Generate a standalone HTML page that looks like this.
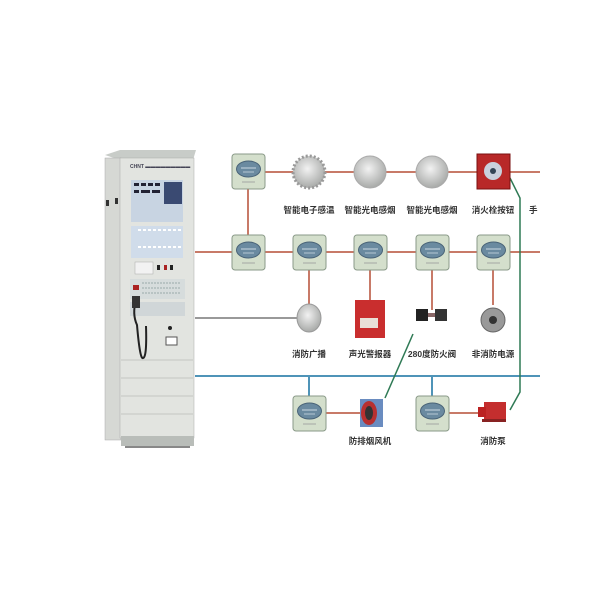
<!DOCTYPE html>
<html><head><meta charset="utf-8"><style>
html,body{margin:0;padding:0;background:#fff;width:600px;height:600px;overflow:hidden}
text{font-family:"Liberation Sans","Noto Sans CJK SC",sans-serif;font-size:8.5px;font-weight:bold;fill:#333}
</style></head><body>
<svg width="600" height="600" viewBox="0 0 600 600" xmlns="http://www.w3.org/2000/svg">
<defs>
<g id="mod">
<rect x="0" y="0" width="33" height="35" rx="3" fill="#d4dfcc" stroke="#8a9a88" stroke-width="1"/>
<ellipse cx="16.5" cy="15" rx="12" ry="8" fill="#6a8aa0" stroke="#4a6478"/>
<line x1="9" y1="14" x2="24" y2="14" stroke="#c9d8e2" stroke-width="1"/>
<line x1="11" y1="18" x2="22" y2="18" stroke="#c9d8e2" stroke-width="0.8"/>
<line x1="10" y1="28" x2="23" y2="28" stroke="#999" stroke-width="0.8"/>
</g>
<radialGradient id="dome" cx="45%" cy="40%" r="60%"><stop offset="0" stop-color="#f2f2f2"/><stop offset="1" stop-color="#a8aaa8"/></radialGradient>
</defs>
<g stroke="#c87a68" stroke-width="2" fill="none">
<line x1="248" y1="172" x2="540" y2="172"/>
<line x1="195" y1="252" x2="540" y2="252"/>
<line x1="248" y1="172" x2="248" y2="252"/>
<line x1="309" y1="252" x2="309" y2="305"/>
<line x1="370" y1="252" x2="370" y2="300"/>
<line x1="432" y1="252" x2="432" y2="310"/>
<line x1="493" y1="252" x2="493" y2="305"/>
<line x1="326" y1="413" x2="360" y2="413"/>
<line x1="449" y1="413" x2="480" y2="413"/>
</g>
<line x1="195" y1="318" x2="298" y2="318" stroke="#999" stroke-width="2"/>
<g stroke="#4f94b8" stroke-width="2">
<line x1="195" y1="376" x2="540" y2="376"/>
<line x1="309" y1="376" x2="309" y2="396"/>
<line x1="432" y1="376" x2="432" y2="396"/>
</g>
<g stroke="#2f7a55" stroke-width="1.5" fill="none">
<polyline points="510,178 520,198 520,392 510,410"/>
<line x1="413" y1="334" x2="385" y2="398"/>
</g>
<polygon points="105,155 120,150 196,150 193,160 120,160" fill="#c8ccc8"/>
<rect x="105" y="158" width="16" height="282" fill="#d6d8d4" stroke="#aaa" stroke-width="0.5"/>
<rect x="120" y="158" width="74" height="280" fill="#e2e4e0" stroke="#aaa" stroke-width="0.5"/>
<rect x="121" y="436" width="73" height="10" fill="#b9bdb9"/>
<rect x="125" y="446" width="65" height="2" fill="#888"/>
<rect x="106" y="200" width="3" height="6" fill="#333"/><rect x="115" y="198" width="3" height="6" fill="#333"/>
<text x="130" y="168" style="font-size:5px;fill:#445">CHNT  ▬▬▬▬▬▬▬▬▬</text>
<rect x="131" y="180" width="52" height="42" fill="#c8d4e2"/>
<rect x="164" y="182" width="18" height="22" fill="#3a4a72"/>
<g fill="#223"><rect x="134" y="183" width="5" height="3"/><rect x="141" y="183" width="5" height="3"/><rect x="148" y="183" width="5" height="3"/><rect x="155" y="183" width="5" height="3"/>
<rect x="134" y="190" width="5" height="3"/><rect x="141" y="190" width="9" height="3"/><rect x="152" y="190" width="8" height="3"/></g>
<rect x="131" y="226" width="52" height="32" fill="#d0dcea"/>
<g stroke="#fff" stroke-width="2" stroke-dasharray="3 2"><line x1="138" y1="230" x2="182" y2="230"/><line x1="138" y1="247" x2="182" y2="247"/></g>
<rect x="135" y="262" width="18" height="12" fill="#f2f2f2" stroke="#aaa" stroke-width="0.5"/>
<rect x="157" y="265" width="3" height="5" fill="#222"/><rect x="164" y="265" width="3" height="5" fill="#a22"/><rect x="170" y="265" width="3" height="5" fill="#222"/>
<rect x="130" y="279" width="55" height="20" fill="#d6dcdc"/>
<g stroke="#9aa" stroke-width="1" stroke-dasharray="2 1"><line x1="142" y1="283" x2="180" y2="283"/><line x1="142" y1="288" x2="180" y2="288"/><line x1="142" y1="293" x2="180" y2="293"/></g>
<rect x="133" y="285" width="6" height="5" fill="#a22"/>
<rect x="130" y="302" width="55" height="14" fill="#d0d6d8"/>
<path d="M136,300 q-4,14 1,25 q3,35 6,33 q4,0 3,-32" stroke="#222" stroke-width="2" fill="none"/>
<rect x="132" y="296" width="8" height="12" fill="#333"/>
<circle cx="170" cy="328" r="2" fill="#222"/>
<rect x="166" y="337" width="11" height="8" fill="#fff" stroke="#555"/>
<g stroke="#c4c6c2" stroke-width="1"><line x1="121" y1="360" x2="193" y2="360"/><line x1="121" y1="378" x2="193" y2="378"/><line x1="121" y1="396" x2="193" y2="396"/><line x1="121" y1="414" x2="193" y2="414"/></g>
<use href="#mod" x="232" y="154"/>
<use href="#mod" x="232" y="235"/>
<use href="#mod" x="293" y="235"/>
<use href="#mod" x="354" y="235"/>
<use href="#mod" x="416" y="235"/>
<use href="#mod" x="477" y="235"/>
<use href="#mod" x="293" y="396"/>
<use href="#mod" x="416" y="396"/>
<circle cx="309" cy="172" r="16" fill="url(#dome)"/>
<circle cx="309" cy="172" r="16" fill="none" stroke="#999" stroke-width="3" stroke-dasharray="2 2"/>
<circle cx="370" cy="172" r="16" fill="url(#dome)" stroke="#aaa"/>
<circle cx="432" cy="172" r="16" fill="url(#dome)" stroke="#aaa"/>
<rect x="477" y="154" width="33" height="35" fill="#b82828" stroke="#7a1010"/>
<circle cx="493" cy="171" r="9" fill="#c9d0dc"/><circle cx="493" cy="171" r="3" fill="#345"/>
<ellipse cx="309" cy="318" rx="12" ry="14" fill="url(#dome)" stroke="#999"/>
<rect x="355" y="300" width="30" height="38" fill="#c92e2e"/>
<rect x="360" y="318" width="18" height="10" fill="#e9e0d8"/>
<rect x="416" y="309" width="12" height="12" fill="#222"/><rect x="435" y="309" width="12" height="12" fill="#333"/>
<rect x="428" y="313" width="7" height="4" fill="#866"/>
<circle cx="493" cy="320" r="12" fill="#999" stroke="#666"/><circle cx="493" cy="320" r="4" fill="#333"/>
<rect x="360" y="399" width="23" height="28" fill="#6a8cc0"/>
<ellipse cx="369" cy="413" rx="8" ry="12" fill="#b83030"/><ellipse cx="369" cy="413" rx="4" ry="7" fill="#333"/>
<rect x="484" y="402" width="22" height="17" fill="#c42e2e"/><rect x="478" y="407" width="8" height="10" fill="#b22"/><rect x="482" y="419" width="24" height="3" fill="#822"/>
<text x="309" y="213" text-anchor="middle">智能电子感温</text>
<text x="370" y="213" text-anchor="middle">智能光电感烟</text>
<text x="432" y="213" text-anchor="middle">智能光电感烟</text>
<text x="493" y="213" text-anchor="middle">消火栓按钮</text>
<text x="529" y="213">手</text>
<text x="309" y="357" text-anchor="middle">消防广播</text>
<text x="370" y="357" text-anchor="middle">声光警报器</text>
<text x="432" y="357" text-anchor="middle">280度防火阀</text>
<text x="493" y="357" text-anchor="middle">非消防电源</text>
<text x="370" y="444" text-anchor="middle">防排烟风机</text>
<text x="493" y="444" text-anchor="middle">消防泵</text>
</svg>
</body></html>
